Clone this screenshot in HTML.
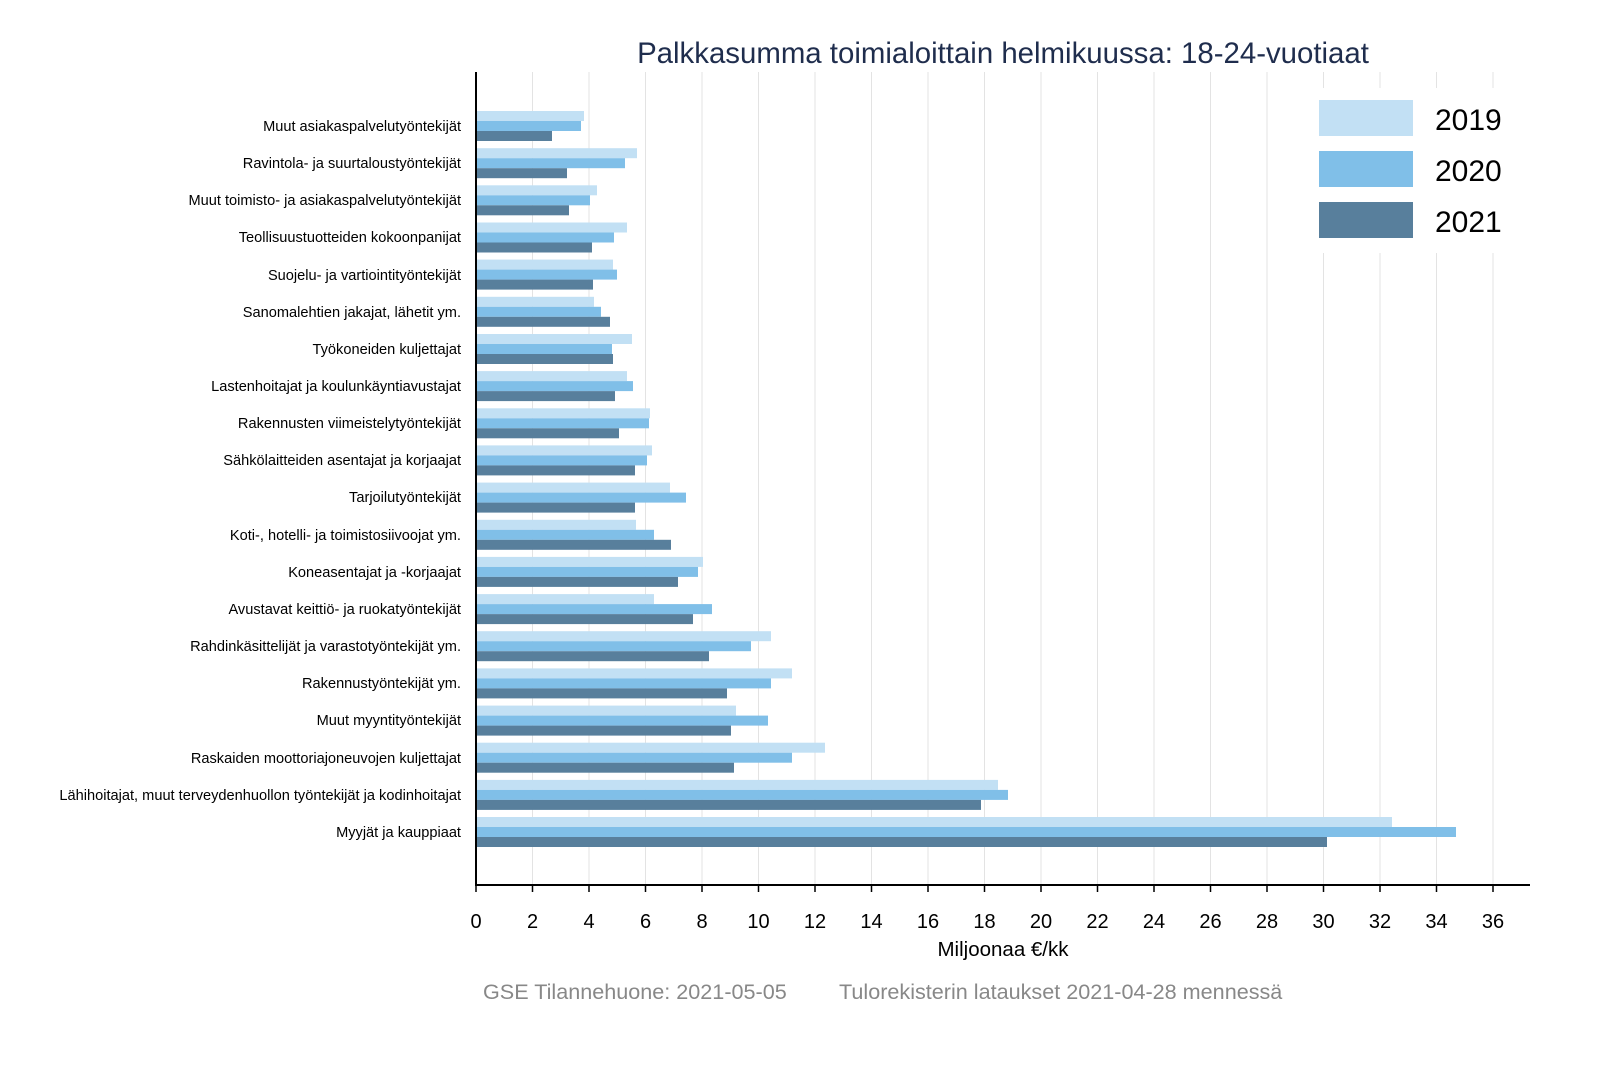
<!DOCTYPE html>
<html><head><meta charset="utf-8"><style>
html,body{margin:0;padding:0;background:#fff;}
svg{display:block;font-family:"Liberation Sans",Arial,sans-serif;}
</style></head><body>
<svg width="1600" height="1067" viewBox="0 0 1600 1067" xmlns="http://www.w3.org/2000/svg">
<rect width="1600" height="1067" fill="#fff"/>
<g stroke="#e3e3e3" stroke-width="1">
<line x1="532.5" y1="72" x2="532.5" y2="885"/><line x1="589" y1="72" x2="589" y2="885"/><line x1="645.5" y1="72" x2="645.5" y2="885"/><line x1="702" y1="72" x2="702" y2="885"/><line x1="758.5" y1="72" x2="758.5" y2="885"/><line x1="815" y1="72" x2="815" y2="885"/><line x1="871.5" y1="72" x2="871.5" y2="885"/><line x1="928" y1="72" x2="928" y2="885"/><line x1="984.5" y1="72" x2="984.5" y2="885"/><line x1="1041" y1="72" x2="1041" y2="885"/><line x1="1097.5" y1="72" x2="1097.5" y2="885"/><line x1="1154" y1="72" x2="1154" y2="885"/><line x1="1210.5" y1="72" x2="1210.5" y2="885"/><line x1="1267" y1="72" x2="1267" y2="885"/><line x1="1323.5" y1="72" x2="1323.5" y2="885"/><line x1="1380" y1="72" x2="1380" y2="885"/><line x1="1436.5" y1="72" x2="1436.5" y2="885"/><line x1="1493" y1="72" x2="1493" y2="885"/>
</g>
<g fill="#c2e0f4">
<rect x="476" y="111" width="108" height="10"/>
<rect x="476" y="148.2" width="161" height="10"/>
<rect x="476" y="185.3" width="121" height="10"/>
<rect x="476" y="222.5" width="151" height="10"/>
<rect x="476" y="259.6" width="137" height="10"/>
<rect x="476" y="296.8" width="118" height="10"/>
<rect x="476" y="334" width="156" height="10"/>
<rect x="476" y="371.1" width="151" height="10"/>
<rect x="476" y="408.3" width="174" height="10"/>
<rect x="476" y="445.4" width="176" height="10"/>
<rect x="476" y="482.6" width="194" height="10"/>
<rect x="476" y="519.8" width="160" height="10"/>
<rect x="476" y="556.9" width="227" height="10"/>
<rect x="476" y="594.1" width="178" height="10"/>
<rect x="476" y="631.2" width="295" height="10"/>
<rect x="476" y="668.4" width="316" height="10"/>
<rect x="476" y="705.6" width="260" height="10"/>
<rect x="476" y="742.7" width="349" height="10"/>
<rect x="476" y="779.9" width="522" height="10"/>
<rect x="476" y="817" width="916" height="10"/>
</g>
<g fill="#80bfe8">
<rect x="476" y="121" width="105" height="10"/>
<rect x="476" y="158.2" width="149" height="10"/>
<rect x="476" y="195.3" width="114" height="10"/>
<rect x="476" y="232.5" width="138" height="10"/>
<rect x="476" y="269.6" width="141" height="10"/>
<rect x="476" y="306.8" width="125" height="10"/>
<rect x="476" y="344" width="136" height="10"/>
<rect x="476" y="381.1" width="157" height="10"/>
<rect x="476" y="418.3" width="173" height="10"/>
<rect x="476" y="455.4" width="171" height="10"/>
<rect x="476" y="492.6" width="210" height="10"/>
<rect x="476" y="529.8" width="178" height="10"/>
<rect x="476" y="566.9" width="222" height="10"/>
<rect x="476" y="604.1" width="236" height="10"/>
<rect x="476" y="641.2" width="275" height="10"/>
<rect x="476" y="678.4" width="295" height="10"/>
<rect x="476" y="715.6" width="292" height="10"/>
<rect x="476" y="752.7" width="316" height="10"/>
<rect x="476" y="789.9" width="532" height="10"/>
<rect x="476" y="827" width="980" height="10"/>
</g>
<g fill="#587f9c">
<rect x="476" y="131" width="76" height="10"/>
<rect x="476" y="168.2" width="91" height="10"/>
<rect x="476" y="205.3" width="93" height="10"/>
<rect x="476" y="242.5" width="116" height="10"/>
<rect x="476" y="279.6" width="117" height="10"/>
<rect x="476" y="316.8" width="134" height="10"/>
<rect x="476" y="354" width="137" height="10"/>
<rect x="476" y="391.1" width="139" height="10"/>
<rect x="476" y="428.3" width="143" height="10"/>
<rect x="476" y="465.4" width="159" height="10"/>
<rect x="476" y="502.6" width="159" height="10"/>
<rect x="476" y="539.8" width="195" height="10"/>
<rect x="476" y="576.9" width="202" height="10"/>
<rect x="476" y="614.1" width="217" height="10"/>
<rect x="476" y="651.2" width="233" height="10"/>
<rect x="476" y="688.4" width="251" height="10"/>
<rect x="476" y="725.6" width="255" height="10"/>
<rect x="476" y="762.7" width="258" height="10"/>
<rect x="476" y="799.9" width="505" height="10"/>
<rect x="476" y="837" width="851" height="10"/>
</g>
<g font-size="14.6" fill="#000" text-anchor="end">
<text x="461" y="131">Muut asiakaspalvelutyöntekijät</text>
<text x="461" y="168">Ravintola- ja suurtaloustyöntekijät</text>
<text x="461" y="205">Muut toimisto- ja asiakaspalvelutyöntekijät</text>
<text x="461" y="242">Teollisuustuotteiden kokoonpanijat</text>
<text x="461" y="280">Suojelu- ja vartiointityöntekijät</text>
<text x="461" y="317">Sanomalehtien jakajat, lähetit ym.</text>
<text x="461" y="354">Työkoneiden kuljettajat</text>
<text x="461" y="391">Lastenhoitajat ja koulunkäyntiavustajat</text>
<text x="461" y="428">Rakennusten viimeistelytyöntekijät</text>
<text x="461" y="465">Sähkölaitteiden asentajat ja korjaajat</text>
<text x="461" y="502">Tarjoilutyöntekijät</text>
<text x="461" y="540">Koti-, hotelli- ja toimistosiivoojat ym.</text>
<text x="461" y="577">Koneasentajat ja -korjaajat</text>
<text x="461" y="614">Avustavat keittiö- ja ruokatyöntekijät</text>
<text x="461" y="651">Rahdinkäsittelijät ja varastotyöntekijät ym.</text>
<text x="461" y="688">Rakennustyöntekijät ym.</text>
<text x="461" y="725">Muut myyntityöntekijät</text>
<text x="461" y="763">Raskaiden moottoriajoneuvojen kuljettajat</text>
<text x="461" y="800">Lähihoitajat, muut terveydenhuollon työntekijät ja kodinhoitajat</text>
<text x="461" y="837">Myyjät ja kauppiaat</text>
</g>
<line x1="476" y1="72" x2="476" y2="886" stroke="#000" stroke-width="2"/>
<line x1="475" y1="885" x2="1530" y2="885" stroke="#000" stroke-width="2"/>
<g stroke="#000" stroke-width="1.5">
<line x1="476" y1="885" x2="476" y2="892"/><line x1="532.5" y1="885" x2="532.5" y2="892"/><line x1="589" y1="885" x2="589" y2="892"/><line x1="645.5" y1="885" x2="645.5" y2="892"/><line x1="702" y1="885" x2="702" y2="892"/><line x1="758.5" y1="885" x2="758.5" y2="892"/><line x1="815" y1="885" x2="815" y2="892"/><line x1="871.5" y1="885" x2="871.5" y2="892"/><line x1="928" y1="885" x2="928" y2="892"/><line x1="984.5" y1="885" x2="984.5" y2="892"/><line x1="1041" y1="885" x2="1041" y2="892"/><line x1="1097.5" y1="885" x2="1097.5" y2="892"/><line x1="1154" y1="885" x2="1154" y2="892"/><line x1="1210.5" y1="885" x2="1210.5" y2="892"/><line x1="1267" y1="885" x2="1267" y2="892"/><line x1="1323.5" y1="885" x2="1323.5" y2="892"/><line x1="1380" y1="885" x2="1380" y2="892"/><line x1="1436.5" y1="885" x2="1436.5" y2="892"/><line x1="1493" y1="885" x2="1493" y2="892"/>
</g>
<g font-size="20" text-anchor="middle" fill="#000">
<text x="476" y="928">0</text><text x="532.5" y="928">2</text><text x="589" y="928">4</text><text x="645.5" y="928">6</text><text x="702" y="928">8</text><text x="758.5" y="928">10</text><text x="815" y="928">12</text><text x="871.5" y="928">14</text><text x="928" y="928">16</text><text x="984.5" y="928">18</text><text x="1041" y="928">20</text><text x="1097.5" y="928">22</text><text x="1154" y="928">24</text><text x="1210.5" y="928">26</text><text x="1267" y="928">28</text><text x="1323.5" y="928">30</text><text x="1380" y="928">32</text><text x="1436.5" y="928">34</text><text x="1493" y="928">36</text>
</g>
<text x="1003" y="956" font-size="20.5" text-anchor="middle" fill="#000">Miljoonaa €/kk</text>
<text x="1003" y="63" font-size="29.4" text-anchor="middle" fill="#1f2d4d">Palkkasumma toimialoittain helmikuussa: 18-24-vuotiaat</text>
<rect x="1300" y="88" width="225" height="165" fill="#fff"/>
<rect x="1319" y="100" width="94" height="36" fill="#c2e0f4"/>
<rect x="1319" y="151" width="94" height="36" fill="#80bfe8"/>
<rect x="1319" y="202" width="94" height="36" fill="#587f9c"/>
<g font-size="30" fill="#000"><text x="1435" y="130">2019</text><text x="1435" y="181">2020</text><text x="1435" y="232">2021</text></g>
<g font-size="21.6" fill="#888"><text x="483" y="999">GSE Tilannehuone: 2021-05-05</text><text x="839" y="999">Tulorekisterin lataukset 2021-04-28 mennessä</text></g>
</svg>
</body></html>
